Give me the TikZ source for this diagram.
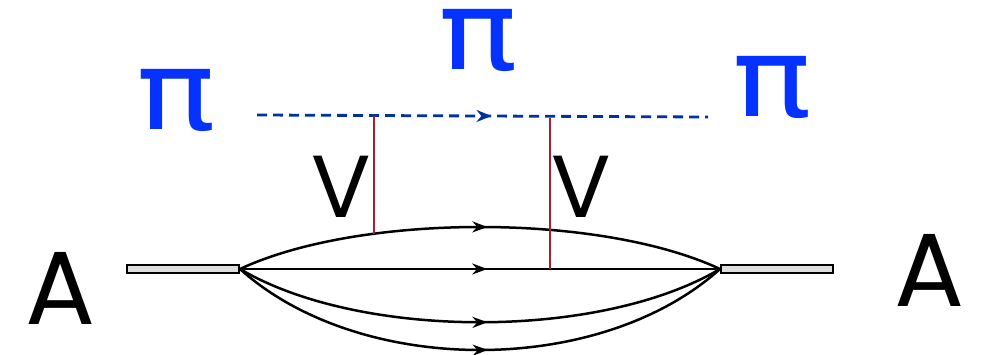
\documentclass[tikz,border=0pt]{standalone}
\usepackage{fontspec}
\setmainfont{Poppins}
\newfontfamily\pifont{DejaVu Sans}
\usetikzlibrary{arrows.meta,decorations.markings}
\definecolor{piblue}{RGB}{5,50,255}
\definecolor{dashblue}{RGB}{0,50,160}
\definecolor{vred}{RGB}{170,30,45}
\tikzset{
  line/.style={line width=2.5pt,
    postaction={decorate,decoration={markings,mark=at position 0.515 with {\arrow{Stealth[length=15pt,width=11pt]}}}}},
  bar/.style={draw=black,fill=black!13,line width=2.2pt,minimum width=112pt,minimum height=8pt,inner sep=0pt},
  pilab/.style={text=piblue,font=\pifont\fontsize{110}{110}\selectfont,inner sep=0pt,xscale=1.2},
  big/.style={font=\fontsize{104}{104}\selectfont,inner sep=0pt},
  vlab/.style={font=\fontsize{88}{88}\selectfont,inner sep=0pt},
  vline/.style={draw=vred,line width=2pt}
}
\begin{document}
\begin{tikzpicture}[x=1pt,y=-1pt]
\useasboundingbox (0,0) rectangle (982,355);
% bars
\node[bar] (bl) at (183,269) {};
\node[bar] (br) at (777,269) {};
\coordinate (L) at (240,269);
\coordinate (R) at (720,269);
% fermion lines
\draw[line] (L) .. controls (360,213) and (600,213) .. (R);
\draw[line] (L) -- (R);
\draw[line] (L) .. controls (360,340) and (600,340) .. (R);
\draw[line] (L) .. controls (360,377) and (600,377) .. (R);
% pion line
\coordinate (p1) at (257,115);
\coordinate (p2) at (708,117);
\draw[dashblue,line width=2.8pt,dash pattern=on 10pt off 6pt,
  postaction={decorate,decoration={markings,mark=at position 0.52 with {\arrow{Stealth[length=15pt,width=12pt]}}}}]
  (p1) -- (p2);
% vertices
\coordinate (t1) at (374,116);
\coordinate (b1) at (374,234);
\coordinate (t2) at (550,118);
\coordinate (b2) at (550,269);
\draw[vline] (t1) -- (b1);
\draw[vline] (t2) -- (b2);
% labels
\node[pilab] (pi1) at (176,100) {π};
\node[pilab] (pi2) at (478,40) {π};
\node[pilab] (pi3) at (772,87) {π};
\node[vlab] (v1) at (341,187) {V};
\node[vlab] (v2) at (581,187) {V};
\node[big] (a1) at (61,288) {A};
\node[big] (a2) at (930,270) {A};
\end{tikzpicture}
\end{document}
